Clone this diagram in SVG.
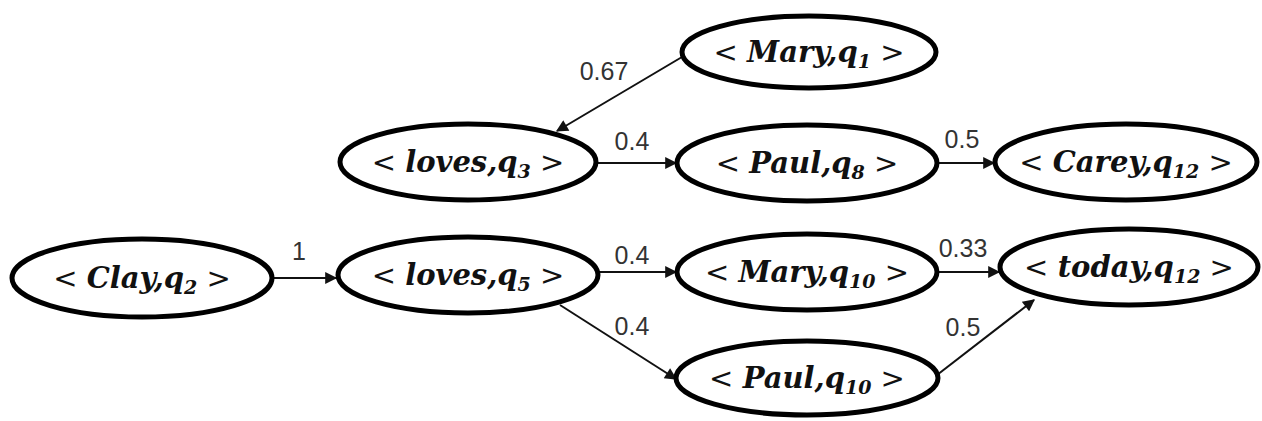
<svg xmlns="http://www.w3.org/2000/svg" width="1262" height="421" viewBox="0 0 1262 421">
<defs>
<marker id="arr" viewBox="0 0 10 10" refX="9" refY="5" markerWidth="16" markerHeight="12" markerUnits="userSpaceOnUse" orient="auto">
<path d="M0,0 L10,5 L0,10 z" fill="#111"/>
</marker>
<style>
.n{fill:#fff;stroke:#000;stroke-width:5}
.t{font-family:"DejaVu Serif","Liberation Serif",serif;font-size:29px;font-weight:bold;font-style:italic;fill:#111}
.b{font-family:"DejaVu Sans","Liberation Sans",sans-serif;font-weight:normal;font-style:normal}
.s{font-size:19px}
.e{fill:none;stroke:#111;stroke-width:2}
.l{font-family:"Liberation Sans","DejaVu Sans",sans-serif;font-size:25px;fill:#333}
</style>
</defs>
<rect width="1262" height="421" fill="#fff"/>
<g id="connectors">
<line class="e" x1="682" y1="57" x2="557" y2="131" marker-end="url(#arr)"/>
<line class="e" x1="598" y1="163" x2="676" y2="163" marker-end="url(#arr)"/>
<line class="e" x1="938" y1="163" x2="994" y2="163" marker-end="url(#arr)"/>
<line class="e" x1="274" y1="278" x2="336" y2="278" marker-end="url(#arr)"/>
<line class="e" x1="599" y1="272" x2="676" y2="272" marker-end="url(#arr)"/>
<line class="e" x1="560" y1="305" x2="676" y2="379" marker-end="url(#arr)"/>
<line class="e" x1="938" y1="272" x2="999" y2="272" marker-end="url(#arr)"/>
<line class="e" x1="937" y1="375" x2="1034" y2="300" marker-end="url(#arr)"/>
<text class="l" x="604" y="80" text-anchor="middle">0.67</text>
<text class="l" x="632" y="150" text-anchor="middle">0.4</text>
<text class="l" x="962" y="148" text-anchor="middle">0.5</text>
<text class="l" x="299" y="260" text-anchor="middle">1</text>
<text class="l" x="632" y="264" text-anchor="middle">0.4</text>
<text class="l" x="632" y="335" text-anchor="middle">0.4</text>
<text class="l" x="963" y="257" text-anchor="middle">0.33</text>
<text class="l" x="963" y="336" text-anchor="middle">0.5</text>
</g>
<g id="n-mary-q1">
<ellipse class="n" cx="809" cy="52" rx="127" ry="36"/>
<text class="t" x="809" y="62" text-anchor="middle"><tspan class="b">&lt; </tspan>Mary,q<tspan class="s" dy="6">1</tspan><tspan class="b" dy="-6"> &gt;</tspan></text>
</g>
<g id="n-loves-q3">
<ellipse class="n" cx="468" cy="162" rx="128" ry="38"/>
<text class="t" x="468" y="172" text-anchor="middle"><tspan class="b">&lt; </tspan>loves,q<tspan class="s" dy="6">3</tspan><tspan class="b" dy="-6"> &gt;</tspan></text>
</g>
<g id="n-paul-q8">
<ellipse class="n" cx="807" cy="163" rx="130" ry="38"/>
<text class="t" x="807" y="173" text-anchor="middle"><tspan class="b">&lt; </tspan>Paul,q<tspan class="s" dy="6">8</tspan><tspan class="b" dy="-6"> &gt;</tspan></text>
</g>
<g id="n-carey-q12">
<ellipse class="n" cx="1126" cy="162" rx="131" ry="38"/>
<text class="t" x="1126" y="172" text-anchor="middle"><tspan class="b">&lt; </tspan>Carey,q<tspan class="s" dy="6">12</tspan><tspan class="b" dy="-6"> &gt;</tspan></text>
</g>
<g id="n-clay-q2">
<ellipse class="n" cx="142" cy="278" rx="130" ry="39"/>
<text class="t" x="142" y="288" text-anchor="middle"><tspan class="b">&lt; </tspan>Clay,q<tspan class="s" dy="6">2</tspan><tspan class="b" dy="-6"> &gt;</tspan></text>
</g>
<g id="n-loves-q5">
<ellipse class="n" cx="468" cy="275" rx="130" ry="38"/>
<text class="t" x="468" y="285" text-anchor="middle"><tspan class="b">&lt; </tspan>loves,q<tspan class="s" dy="6">5</tspan><tspan class="b" dy="-6"> &gt;</tspan></text>
</g>
<g id="n-mary-q10">
<ellipse class="n" cx="807" cy="272" rx="130" ry="38"/>
<text class="t" x="807" y="282" text-anchor="middle"><tspan class="b">&lt; </tspan>Mary,q<tspan class="s" dy="6">10</tspan><tspan class="b" dy="-6"> &gt;</tspan></text>
</g>
<g id="n-today-q12">
<ellipse class="n" cx="1129" cy="267" rx="129" ry="38"/>
<text class="t" x="1129" y="277" text-anchor="middle"><tspan class="b">&lt; </tspan>today,q<tspan class="s" dy="6">12</tspan><tspan class="b" dy="-6"> &gt;</tspan></text>
</g>
<g id="n-paul-q10">
<ellipse class="n" cx="807" cy="378" rx="131" ry="37"/>
<text class="t" x="807" y="388" text-anchor="middle"><tspan class="b">&lt; </tspan>Paul,q<tspan class="s" dy="6">10</tspan><tspan class="b" dy="-6"> &gt;</tspan></text>
</g>
</svg>
